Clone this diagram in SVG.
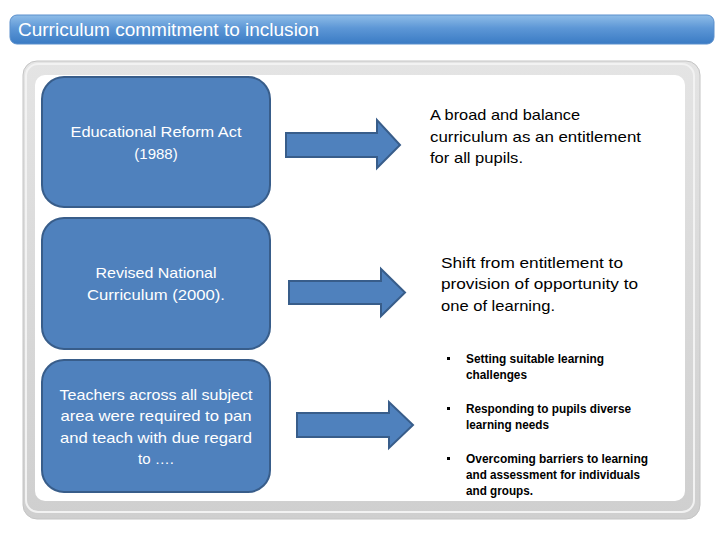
<svg xmlns="http://www.w3.org/2000/svg" width="720" height="540" viewBox="0 0 720 540">
<defs>
<linearGradient id="tg" x1="0" y1="0" x2="0" y2="1">
<stop offset="0" stop-color="#8fbde8"/>
<stop offset="0.45" stop-color="#5d97d6"/>
<stop offset="1" stop-color="#3a7bc4"/>
</linearGradient>
<linearGradient id="fg" x1="0" y1="0" x2="0" y2="1">
<stop offset="0" stop-color="#e4e4e4"/>
<stop offset="1" stop-color="#cfcfcf"/>
</linearGradient>
<style>
.node rect{fill:#4f81bd;stroke:#385d8a;stroke-width:2}
.nt{font-family:"Liberation Sans",Arial,sans-serif;font-size:15px;fill:#ffffff;text-anchor:middle}
.arrow{fill:#4f81bd;stroke:#385d8a;stroke-width:2;stroke-linejoin:miter}
.rt{font-family:"Liberation Sans",Arial,sans-serif;font-size:15px;fill:#000000}
.bt{font-family:"Liberation Sans",Arial,sans-serif;font-size:12px;font-weight:bold;fill:#000000}
</style>
</defs>
<rect width="720" height="540" fill="#ffffff"/>
<g id="title">
<rect x="10" y="15" width="704" height="29" rx="7" fill="url(#tg)" stroke="#5a8fcc" stroke-width="1"/>
<text x="18" y="36" font-family="'Liberation Sans',Arial,sans-serif" font-size="18" fill="#ffffff" textLength="301" lengthAdjust="spacingAndGlyphs">Curriculum commitment to inclusion</text>
</g>
<g id="frame">
<rect x="23" y="61" width="677" height="458" rx="14" fill="url(#fg)" stroke="#c4c4c4" stroke-width="1"/>
<rect x="26" y="64" width="668" height="448" rx="12" fill="none" stroke="#f2f2f2" stroke-width="2"/>
<rect x="35" y="75" width="650" height="426" rx="10" fill="#ffffff"/>
</g>
<g id="node1" class="node">
<rect x="42" y="77" width="228" height="130" rx="22"/>
<text class="nt" x="156" y="137" textLength="171" lengthAdjust="spacingAndGlyphs">Educational Reform Act</text>
<text class="nt" x="156" y="159">(1988)</text>
</g>
<g id="node2" class="node">
<rect x="42" y="218" width="228" height="131" rx="22"/>
<text class="nt" x="156" y="278" textLength="121" lengthAdjust="spacingAndGlyphs">Revised National</text>
<text class="nt" x="156" y="300" textLength="138" lengthAdjust="spacingAndGlyphs">Curriculum (2000).</text>
</g>
<g id="node3" class="node">
<rect x="42" y="360" width="228" height="132" rx="22"/>
<text class="nt" x="156" y="400" textLength="193" lengthAdjust="spacingAndGlyphs">Teachers across all subject</text>
<text class="nt" x="156" y="421" textLength="191" lengthAdjust="spacingAndGlyphs">area were required to pan</text>
<text class="nt" x="156" y="443" textLength="192" lengthAdjust="spacingAndGlyphs">and teach with due regard</text>
<text class="nt" x="156" y="464">to ….</text>
</g>
<g id="connectors">
<path class="arrow" d="M286,133 H377 V120 L400,145 L377,168 V157 H286 Z"/>
<path class="arrow" d="M289,281 H381 V269 L405,292.5 L381,316 V304 H289 Z"/>
<path class="arrow" d="M297,413 H389 V402 L413,425 L389,448 V437 H297 Z"/>
</g>
<g id="result1">
<text class="rt" x="430" y="120" textLength="150" lengthAdjust="spacingAndGlyphs">A broad and balance</text>
<text class="rt" x="430" y="142" textLength="211" lengthAdjust="spacingAndGlyphs">curriculum as an entitlement</text>
<text class="rt" x="430" y="163" textLength="93" lengthAdjust="spacingAndGlyphs">for all pupils.</text>
</g>
<g id="result2">
<text class="rt" x="441" y="268" textLength="182" lengthAdjust="spacingAndGlyphs">Shift from entitlement to</text>
<text class="rt" x="441" y="289" textLength="197" lengthAdjust="spacingAndGlyphs">provision of opportunity to</text>
<text class="rt" x="441" y="311" textLength="114" lengthAdjust="spacingAndGlyphs">one of learning.</text>
</g>
<g id="result3">
<rect x="447" y="357" width="3" height="3" fill="#000"/>
<text class="bt" x="466" y="363" textLength="138" lengthAdjust="spacingAndGlyphs">Setting suitable learning</text>
<text class="bt" x="466" y="379" textLength="61" lengthAdjust="spacingAndGlyphs">challenges</text>
<rect x="447" y="407" width="3" height="3" fill="#000"/>
<text class="bt" x="466" y="413" textLength="165" lengthAdjust="spacingAndGlyphs">Responding to pupils diverse</text>
<text class="bt" x="466" y="429" textLength="83" lengthAdjust="spacingAndGlyphs">learning needs</text>
<rect x="447" y="457" width="3" height="3" fill="#000"/>
<text class="bt" x="466" y="463" textLength="182" lengthAdjust="spacingAndGlyphs">Overcoming barriers to learning</text>
<text class="bt" x="466" y="479" textLength="174" lengthAdjust="spacingAndGlyphs">and assessment for individuals</text>
<text class="bt" x="466" y="495" textLength="67" lengthAdjust="spacingAndGlyphs">and groups.</text>
</g>
</svg>
